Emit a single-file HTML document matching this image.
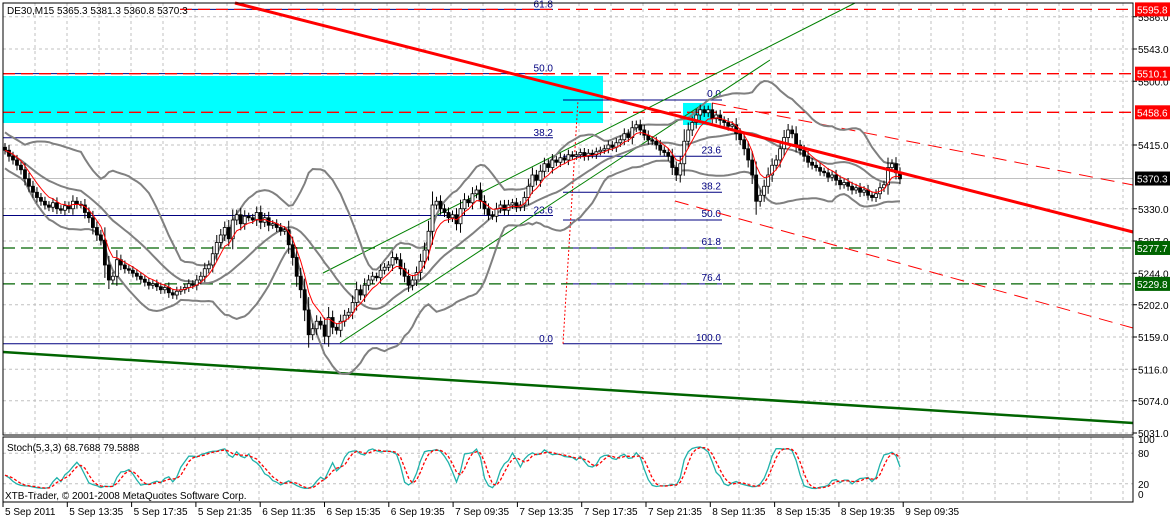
<!DOCTYPE html>
<html><head><meta charset="utf-8"><style>
html,body{margin:0;padding:0;background:#fff;}
svg{display:block;font-family:"Liberation Sans",sans-serif;}
</style></head><body>
<svg id="c" width="1171" height="519" xmlns="http://www.w3.org/2000/svg"></svg>
<script>
const closes=[5408,5400,5395,5388,5382,
5370,5360,5352,5345,5340,5335,
5332,5338,5330,5328,
5334,5330,5340,5336,5335,
5325,5318,5305,5295,5288,
5255,5235,5240,
5262,5255,5250,
5248,5244,5240,5236,5232,
5228,5230,5226,5222,5225,5218,5215,
5220,5222,5225,5230,5228,
5235,5240,5250,5255,
5270,5285,5295,
5305,5290,5315,5322,
5310,5320,5318,5315,
5325,5312,5318,5308,
5310,5305,5300,5302,
5282,5265,5240,
5222,5195,5162,
5170,5180,5175,
5160,5185,5172,5168,
5180,5188,5192,
5205,5222,5215,5228,
5235,5240,5238,5248,5252,
5255,5265,5262,
5250,5240,5228,5235,
5245,5260,5275,5300,
5335,5340,
5330,5325,5318,5322,
5310,5330,5342,5338,
5350,5355,
5340,5330,5322,5320,
5330,5335,5328,5335,
5338,5332,5335,5345,
5360,5375,5368,
5380,5390,5385,5395,5392,
5398,5395,5402,5400,5402,
5405,5400,5404,5402,5406,5408,
5410,5415,5412,5418,5422,
5430,5425,5438,5442,
5435,5428,5422,5420,
5415,5408,5405,5400,
5385,5375,5390,
5420,5435,5445,
5455,5462,5458,
5462,5450,5455,
5448,5445,5440,5442,
5430,5422,5410,5395,
5375,5340,5348,
5360,5375,5388,
5395,5410,5425,5435,
5430,5415,5408,
5400,5392,5388,5385,
5380,5378,5372,5375,
5368,5362,5365,5360,
5355,5358,5352,5355,
5348,5345,5350,5358,
5362,5385,5390,
5378,5370];
const priceTicks=[5586.0,5543.0,5500.0,5415.0,5330.0,5287.0,5244.0,5202.0,5159.0,5116.0,5074.0,5031.0];
const timeLabels=["5 Sep 2011","5 Sep 13:35","5 Sep 17:35","5 Sep 21:35","6 Sep 11:35","6 Sep 15:35","6 Sep 19:35","7 Sep 09:35","7 Sep 13:35","7 Sep 17:35","7 Sep 21:35","8 Sep 11:35","8 Sep 15:35","8 Sep 19:35","9 Sep 09:35"];
const levelPrices=[5595.8,5510.1,5458.6,5370.3,5277.7,5229.8];
const levelColors=["#ff0000","#ff0000","#ff0000","#000000","#006400","#006400"];
const fibLeft=["61.8","50.0","38.2","23.6","0.0"];
const fibLeftPrices=[5595.8,5510.1,5424.6,5321.0,5150.0];
const fibRight=["0.0","23.6","38.2","50.0","61.8","76.4","100.0"];
const fibRightPrices=[5475.0,5400.0,5352.0,5315.0,5277.7,5229.8,5150.0];

const NS="http://www.w3.org/2000/svg";
const svg=document.getElementById('c');
function el(t,a,p){const e=document.createElementNS(NS,t);for(const k in a)e.setAttribute(k,a[k]);(p||svg).appendChild(e);return e;}
const L=3,R=1133,T=3,B=435;
function y(p){return 49+(5543-p)*0.75;}
function x(i){return 5+i*(895/(closes.length-1));}
const SY0=443,SY1=494;
function sy(v){return SY1-(v/100)*(SY1-SY0);}
const n=closes.length;
const opens=closes.map((c,i)=>i?closes[i-1]:closes[0]+4);
const highs=closes.map((c,i)=>Math.max(opens[i],c)+4+Math.abs(c-opens[i])*0.4);
const lows=closes.map((c,i)=>Math.min(opens[i],c)-4-Math.abs(c-opens[i])*0.4);

// grid
const grid=el('g',{});


for(let gx=L+32;gx<R;gx+=32){el('line',{x1:gx,y1:T,x2:gx,y2:B,stroke:'#c0c0c0','stroke-dasharray':'3,3'},grid);el('line',{x1:gx,y1:437,x2:gx,y2:502,stroke:'#c0c0c0','stroke-dasharray':'3,3'},grid);}
priceTicks.forEach(p=>el('line',{x1:L,y1:y(p),x2:R,y2:y(p),stroke:'#c0c0c0','stroke-dasharray':'3,3'},grid));
[80,20].forEach(v=>el('line',{x1:L,y1:sy(v),x2:R,y2:sy(v),stroke:'#c0c0c0','stroke-dasharray':'3,3'},grid));

const r1=el('rect',{x:L,y:76,width:600,height:47,fill:'#00ffff'});

const r2=el('rect',{x:683,y:103,width:28,height:22,fill:'#00ffff'});


const bid=el('line',{x1:L,y1:y(5370.3),x2:R,y2:y(5370.3),stroke:'#c0c0c0'});


fibLeftPrices.forEach((p,k)=>{
 const g=el('g',{});
 el('line',{x1:k==0?180:L,y1:y(p),x2:553,y2:y(p),stroke:'#000080','stroke-width':1},g);
 const t=el('text',{x:553,y:y(p)-2,'text-anchor':'end','font-size':10,fill:'#000080'},g);t.textContent=fibLeft[k];
});
fibRightPrices.forEach((p,k)=>{
 const g=el('g',{});
 el('line',{x1:563,y1:y(p),x2:722,y2:y(p),stroke:'#000080'},g);
 const t=el('text',{x:721,y:y(p)-3,'text-anchor':'end','font-size':10,fill:'#000080'},g);t.textContent=fibRight[k];
});
const fd=el('line',{x1:563,y1:y(5150),x2:578,y2:y(5475),stroke:'#ff0000','stroke-dasharray':'2,2'});


levelPrices.forEach((p,k)=>{
 if(k==3)return;
 const ln=el('line',{x1:k==0?180:L,y1:y(p),x2:R,y2:y(p),stroke:levelColors[k],'stroke-dasharray':'12,6','stroke-width':1.3});
 
});

function tl(name,x1,y1,x2,y2,st){const l=el('line',Object.assign({x1,y1,x2,y2},st));}
tl('green-channel-upper',323,273,855,3,{stroke:'#008000'});
tl('green-channel-lower',340,343,770,60,{stroke:'#008000'});
tl('green-long-trend',L,352,R,423,{stroke:'#006400','stroke-width':2.5});
tl('red-channel-upper',712,103,R,185,{stroke:'#ff0000','stroke-dasharray':'14,8'});
tl('red-channel-lower',675,201,R,328,{stroke:'#ff0000','stroke-dasharray':'14,8'});

const bbM=[],bbU=[],bbL=[],ma=[];
for(let i=0;i<n;i++){const s=Math.max(0,i-19);const w=closes.slice(s,i+1);const m=w.reduce((a,b)=>a+b,0)/w.length;const sd=Math.sqrt(w.reduce((a,b)=>a+(b-m)*(b-m),0)/w.length);bbM.push(m);bbU.push(m+2*Math.max(sd,12));bbL.push(m-2*Math.max(sd,12));}
let e=closes[0];for(let i=0;i<n;i++){e=e+(closes[i]-e)*2/7;ma.push(e);}
function pl(name,arr,fn,st){const d=arr.map((v,i)=>(i?'L':'M')+x(i).toFixed(1)+','+fn(v).toFixed(1)).join('');const p=el('path',Object.assign({d,fill:'none'},st));}
pl('bollinger-upper',bbU,y,{stroke:'#808080','stroke-width':2});
pl('bollinger-middle',bbM,y,{stroke:'#808080','stroke-width':2});
pl('bollinger-lower',bbL,y,{stroke:'#808080','stroke-width':2});

const cg=el('g',{});
for(let i=0;i<n;i++){
 const o=opens[i],c=closes[i];const cx=x(i);
 el('line',{x1:cx,y1:y(highs[i]),x2:cx,y2:y(lows[i]),stroke:'#000'},cg);
 const top=y(Math.max(o,c)),h=Math.max(1,y(Math.min(o,c))-top);
 el('rect',{x:cx-1.5,y:top,width:3,height:h,fill:c>=o?'#fff':'#000',stroke:'#000','stroke-width':0.8},cg);
}
pl('moving-average',ma,y,{stroke:'#ff0000','stroke-width':1});
tl('red-main-trend',235,3,R,232,{stroke:'#ff0000','stroke-width':3});

const K=[],D=[];
for(let i=0;i<n;i++){let a=0,b=0;for(let j=Math.max(0,i-1);j<=i;j++){let hh=-1e9,ll=1e9;for(let q=Math.max(0,j-4);q<=j;q++){hh=Math.max(hh,highs[q]);ll=Math.min(ll,lows[q]);}a+=closes[j]-ll;b+=hh-ll;}K.push(b?100*a/b:50);}
for(let i=0;i<n;i++){const w=K.slice(Math.max(0,i-2),i+1);D.push(w.reduce((a,b)=>a+b,0)/w.length);}
pl('stoch-main',K,sy,{stroke:'#20b2aa','stroke-width':1.3});
pl('stoch-signal',D,sy,{stroke:'#ff0000','stroke-dasharray':'3,2','stroke-width':1.3});

const f1=el('rect',{x:L,y:T,width:R-L,height:B-T,fill:'none',stroke:'#000'});
const f2=el('rect',{x:L,y:437,width:R-L,height:65,fill:'none',stroke:'#000'});

priceTicks.forEach(p=>{const g=el('g',{});
 el('line',{x1:R,y1:y(p),x2:R+4,y2:y(p),stroke:'#000'},g);
 const t=el('text',{x:1138,y:y(p)+4,'font-size':10,fill:'#000'},g);t.textContent=p.toFixed(1);});
levelPrices.forEach((p,k)=>{const g=el('g',{});
 el('rect',{x:1135,y:y(p)-7,width:35,height:14,fill:levelColors[k]},g);
 const t=el('text',{x:1137,y:y(p)+4,'font-size':10,fill:'#fff'},g);t.textContent=p.toFixed(1);});
[[100,'100'],[80,'80'],[20,'20'],[0,'0']].forEach(([v,s])=>{const t=el('text',{x:1138,y:sy(v)+(v==100?0:4),'font-size':10,fill:'#000'});t.textContent=s;});

timeLabels.forEach((s,k)=>{const tx=3+k*64.3;const g=el('g',{});
 el('line',{x1:tx,y1:502,x2:tx,y2:507,stroke:'#000'},g);
 const t=el('text',{x:tx+2,y:515,'font-size':10,fill:'#000'},g);t.textContent=s;});

function tx(name,s,xx,yy,sz){const t=el('text',{x:xx,y:yy,'font-size':sz,fill:'#000'});t.textContent=s;}
tx('chart-title','DE30,M15  5365.3 5381.3 5360.8 5370.3',7,14,10);
tx('stoch-label','Stoch(5,3,3) 68.7688 79.5888',7,451,10);
tx('copyright','XTB-Trader, © 2001-2008 MetaQuotes Software Corp.',5,499,10);
</script>
</body></html>
